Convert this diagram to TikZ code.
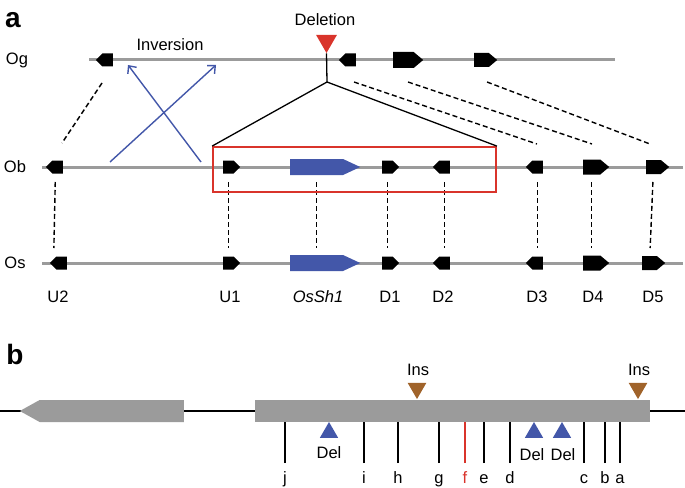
\documentclass[tikz,border=0pt]{standalone}
\usepackage{fontspec}
\setmainfont{Liberation Sans}
\usetikzlibrary{arrows.meta,%
                shapes.symbols,%
                shapes.geometric}
\definecolor{delred}{RGB}{217,52,43}
\definecolor{invblue}{RGB}{67,87,169}
\definecolor{insbrown}{RGB}{160,99,42}
\definecolor{chrgray}{RGB}{155,155,155}

\begin{document}
\begin{tikzpicture}[x=1pt,y=-1pt,
    labelstyle/.style={font=\fontsize{16.5}{19}\selectfont, inner sep=0pt},
    panelstyle/.style={font=\fontsize{28}{30}\selectfont\bfseries, inner sep=0pt},
    rgene/.style={signal, signal to=east, fill=black, inner sep=0pt, minimum width=17pt, minimum height=13pt, anchor=west},
    lgene/.style={rgene, signal to=west, anchor=east},
    biggene/.style={signal pointer angle=80, minimum width=26pt, minimum height=15pt},
    bluegene/.style={rgene, fill=invblue, signal pointer angle=50, minimum width=70pt, minimum height=16pt},
    chrline/.style={chrgray, line width=3pt},
    linkstyle/.style={dash pattern=on 5pt off 3pt, line width=1.4pt},
    downtri/.style={regular polygon, regular polygon sides=3, shape border rotate=180, inner sep=0pt},
    uptri/.style={regular polygon, regular polygon sides=3, inner sep=0pt, fill=invblue, minimum size=21pt},
    ticklabel/.style={labelstyle, anchor=north, text height=11pt, text depth=3.5pt}]
    \useasboundingbox (0,0) rectangle (685,487);
    % panel a
    \node (pa) at (13,20)[panelstyle]{a};
    \draw[chrline] (89,60) -- (615,60);
    \draw[chrline] (42,167) -- (683,167);
    \draw[chrline] (42,263) -- (683,263);
    \node (og) at (17,60)[labelstyle]{Og};
    \node (ob) at (15,167)[labelstyle]{Ob};
    \node (os) at (15,263)[labelstyle]{Os};
    \node (og1) at (113,60)[lgene]{};
    \node (og2) at (356,60)[lgene]{};
    \node (og3) at (393,60)[rgene,biggene,minimum width=30pt,minimum height=16pt]{};
    \node (og4) at (474,60)[rgene,biggene,minimum width=23pt,minimum height=14pt]{};
    \node (ob1) at (63,167)[lgene]{};
    \node (ob2) at (223,167)[rgene]{};
    \node (ob3) at (290,167)[bluegene]{};
    \node (ob4) at (382,167)[rgene]{};
    \node (ob5) at (450,167)[lgene]{};
    \node (ob6) at (543,167)[lgene]{};
    \node (ob7) at (583,167)[rgene,biggene]{};
    \node (ob8) at (646,167)[rgene,biggene,minimum width=23pt,minimum height=14pt]{};
    \node (os1) at (67,263)[lgene]{};
    \node (os2) at (223,263)[rgene]{};
    \node (os3) at (290,263)[bluegene]{};
    \node (os4) at (382,263)[rgene]{};
    \node (os5) at (450,263)[lgene]{};
    \node (os6) at (543,263)[lgene]{};
    \node (os7) at (583,263)[rgene,biggene]{};
    \node (os8) at (642,263)[rgene,biggene,minimum width=23pt,minimum height=14pt]{};
    \foreach \i in {2,...,8}
        \draw[linkstyle, shorten >=15pt, shorten <=15pt] (ob\i.center) -- (os\i.center);
    \draw[linkstyle, shorten >=15pt, shorten <=15pt] ([xshift=-2pt]ob1.center) -- ([xshift=-8pt]os1.center);
    \node (u2) at (58,297)[labelstyle]{U2};
    \node (u1) at (230,297)[labelstyle]{U1};
    \node (sh1) at (318,297)[labelstyle]{\itshape OsSh1};
    \node (d1) at (390,297)[labelstyle]{D1};
    \node (d2) at (443,297)[labelstyle]{D2};
    \node (d3) at (537,297)[labelstyle]{D3};
    \node (d4) at (593,297)[labelstyle]{D4};
    \node (d5) at (653,297)[labelstyle]{D5};
    % links from Og to Ob
    \coordinate (c1) at (102,83);  \coordinate (c2) at (62,143);
    \coordinate (c3) at (354,82);  \coordinate (c4) at (537,144);
    \coordinate (c5) at (408,82);  \coordinate (c6) at (592,144);
    \coordinate (c7) at (487,82);  \coordinate (c8) at (650,144);
    \draw[linkstyle] (c1) -- (c2);
    \draw[linkstyle] (c3) -- (c4);
    \draw[linkstyle] (c5) -- (c6);
    \draw[linkstyle] (c7) -- (c8);
    % inversion
    \node (inv) at (170,45)[labelstyle]{Inversion};
    \coordinate (i1) at (110,162); \coordinate (i2) at (216,65);
    \coordinate (i3) at (201,162); \coordinate (i4) at (128,65);
    \draw[invblue, line width=1.4pt, -{Straight Barb[length=6pt,width=11pt]}] (i1) -- (i2);
    \draw[invblue, line width=1.4pt, -{Straight Barb[length=6pt,width=11pt]}] (i3) -- (i4);
    % deletion
    \node (deltext) at (325,20)[labelstyle]{Deletion};
    \node (del) at (326.5,41)[downtri, fill=delred, minimum size=24pt]{};
    \node (zoombox) at (354.5,169.5)[draw=delred, line width=1.8pt, minimum width=283pt, minimum height=45pt]{};
    \coordinate (split) at (327,82);
    \draw[line width=1.3pt] (del.south) -- (split);
    \draw[line width=1.3pt] (split) -- (zoombox.north west);
    \draw[line width=1.3pt] (split) -- (zoombox.north east);
    % panel b
    \node (pb) at (15,354)[panelstyle]{b};
    \draw[line width=1.3pt] (0,411) -- (685,411);
    \node (bg1) at (184,411)[signal, signal to=west, fill=chrgray, inner sep=0pt, minimum width=164pt, minimum height=22pt, signal pointer angle=58, anchor=east]{};
    \node (bg2) at (452.5,411)[fill=chrgray, inner sep=0pt, minimum width=395pt, minimum height=22pt]{};
    \node (ins1) at (417,388.3)[downtri, fill=insbrown, minimum size=21.5pt]{};
    \node (ins2) at (638,388.3)[downtri, fill=insbrown, minimum size=21.5pt]{};
    \node (inst1) at (418,370)[labelstyle]{Ins};
    \node (inst2) at (639,370)[labelstyle]{Ins};
    \node (del1) at (329,432.5)[uptri]{};
    \node (del2) at (534,432.5)[uptri]{};
    \node (del3) at (562,432.5)[uptri]{};
    \node (delt1) at (329,453)[labelstyle]{Del};
    \node (delt2) at (532,455)[labelstyle]{Del};
    \node (delt3) at (563,455)[labelstyle]{Del};
    \foreach \x/\t in {285/j,364/i,398/h,439/g,484/e,510/d,584/c,605/b,620/a} {
        \node (t\t) at (\x,472)[ticklabel]{\t};
        \draw[line width=1.3pt] ([yshift=9pt]t\t.north) -- (t\t.north |- bg2.south);
    }
    \node (tf) at (465,472)[ticklabel, delred]{f};
    \draw[delred, line width=1.3pt] ([yshift=9pt]tf.north) -- (tf.north |- bg2.south);
\end{tikzpicture}
\end{document}
